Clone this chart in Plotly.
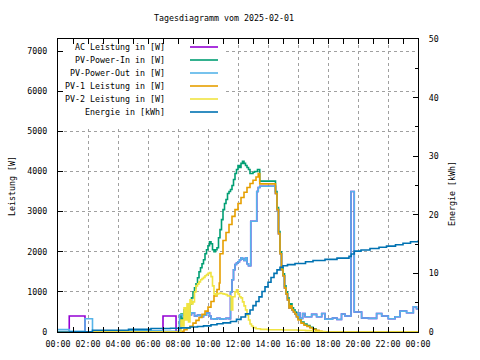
import plotly.graph_objects as go

# ---------------- data (hours of day, W / kWh) ----------------
tick_hours = [0, 2, 4, 6, 8, 10, 12, 14, 16, 18, 20, 22, 24]
tick_labels = ["00:00", "02:00", "04:00", "06:00", "08:00", "10:00", "12:00",
               "14:00", "16:00", "18:00", "20:00", "22:00", "00:00"]

out_h = [0, 0.75, 1.8, 2.3, 7.0, 8.1, 8.3, 8.5, 8.7, 8.9, 9.1, 9.3, 9.5, 9.7, 9.9, 10.1,
         10.2, 10.4, 10.6, 10.8, 11.0, 11.2, 11.4, 11.5, 11.6, 11.7, 11.8, 11.9, 12.0, 12.1,
         12.2, 12.3, 12.4, 12.5, 12.6, 12.7, 12.85, 13.25, 13.35, 13.45, 14.5, 14.6, 14.7,
         14.8, 14.9, 15.0, 15.1, 15.2, 15.3, 15.4, 15.5, 15.6, 15.7, 15.8, 15.9, 16.0, 16.13,
         16.31, 16.47, 16.91, 17.24, 17.58, 17.8, 18.3, 18.6, 18.9, 19.13, 19.53, 19.75,
         19.91, 20.24, 20.7, 21.24, 21.58, 22.02, 22.47, 22.8, 23.24, 23.69, 23.9, 24]
out_w = [60, 20, 330, 30, 20, 430, 380, 600, 430, 480, 400, 420, 380, 420, 470, 400,
         330, 320, 340, 320, 330, 340, 330, 1000, 1300, 1550, 1680, 1720, 1750, 1800,
         1850, 1820, 1780, 1850, 1700, 1650, 2760, 3500, 3600, 3630, 3450, 3050, 2450,
         1950, 1550, 1400, 1100, 950, 800, 600, 650, 550, 500, 450, 380, 470, 340,
         460, 380, 440, 380, 460, 320, 350, 310, 450, 400, 3500, 500,
         500, 350, 340, 460, 400, 330, 380, 520, 480, 630, 580, 580]

ac_h = [0, 0.75, 1.8, 7.0, 7.87, 8.13, 8.36, 8.5, 8.7, 8.9, 9.1, 9.3, 9.5, 9.7, 9.9, 10.1,
        10.2, 10.4, 10.6, 10.8, 11.0, 11.2, 11.4, 11.5, 11.6, 11.7, 11.8, 11.9, 12.0, 12.1,
        12.2, 12.3, 12.4, 12.5, 12.6, 12.7, 12.85, 13.25, 13.35, 13.45, 14.5, 14.6, 14.7,
        14.8, 14.9, 15.0, 15.1, 15.2, 15.3, 15.4, 15.5, 15.6, 15.7, 15.8, 15.9, 16.0, 16.13,
        16.31, 16.47, 16.91, 17.24, 17.58, 17.8, 18.3, 18.6, 18.9, 19.13, 19.53, 19.75,
        19.91, 20.24, 20.7, 21.24, 21.58, 22.02, 22.47, 22.8, 23.24, 23.69, 23.9, 24]
ac_w = [0, 400, 0, 400, 0, 400, 380, 600, 430, 480, 400, 420, 380, 420, 470, 400,
        330, 320, 340, 320, 330, 340, 330, 1000, 1300, 1550, 1680, 1720, 1750, 1800,
        1850, 1820, 1780, 1850, 1700, 1650, 2760, 3500, 3600, 3630, 3450, 3050, 2450,
        1950, 1550, 1400, 1100, 950, 800, 600, 650, 550, 500, 450, 380, 470, 340,
        460, 380, 440, 380, 460, 320, 350, 310, 450, 400, 3500, 500,
        500, 350, 340, 460, 400, 330, 380, 520, 480, 630, 580, 580]

in_h = [0, 8.1, 8.2, 8.3, 8.4, 8.5, 8.6, 8.7, 8.8, 8.9, 9.0, 9.1, 9.2, 9.3, 9.4, 9.5, 9.6,
        9.7, 9.8, 9.9, 10.0, 10.1, 10.2, 10.3, 10.4, 10.5, 10.6, 10.7, 10.8, 10.9, 11.0,
        11.1, 11.2, 11.3, 11.4, 11.5, 11.6, 11.7, 11.8, 11.9, 12.0, 12.1, 12.2, 12.3, 12.4,
        12.5, 12.6, 12.7, 12.8, 12.9, 13.0, 13.1, 13.2, 13.3, 13.45, 14.5, 14.6, 14.7, 14.8,
        14.9, 15.0, 15.1, 15.2, 15.3, 15.4, 15.5, 15.6, 15.7, 15.8, 15.9, 16.0, 16.2, 16.4,
        16.6, 16.8, 17.0, 17.2, 17.4, 24]
in_w = [0, 250, 450, 300, 550, 400, 600, 500, 700, 850, 1000, 1100, 1200, 1350, 1500, 1600,
        1700, 1800, 1950, 2050, 2150, 2250, 2200, 2050, 2000, 2050, 2100, 2350, 2550, 2800,
        3050, 3200, 3300, 3450, 3500, 3550, 3650, 3800, 3950, 4050, 4150, 4100, 4200, 4250,
        4200, 4150, 4100, 4050, 3950, 3950, 3980, 4000, 4000, 4050, 3760, 3500, 3100, 2500,
        2000, 1600, 1450, 1150, 1000, 850, 650, 700, 600, 550, 500, 420, 330, 250, 200, 160,
        120, 80, 30, 0, 0]

pv1_h = [0, 8.1, 8.2, 8.4, 8.6, 8.8, 9.0, 9.2, 9.4, 9.6, 9.8, 10.0, 10.2, 10.4, 10.6, 10.75,
         10.8, 11.0, 11.2, 11.4, 11.6, 11.8, 12.0, 12.2, 12.4, 12.6, 12.8, 13.0, 13.2, 13.35,
         13.45, 14.5, 14.6, 14.7, 14.8, 14.9, 15.0, 15.1, 15.2, 15.3, 15.4, 15.5, 15.6, 15.7,
         15.8, 15.9, 16.0, 16.2, 16.4, 16.6, 16.8, 17.0, 17.2, 17.4, 17.6, 24]
pv1_w = [0, 0, 20, 60, 100, 140, 220, 290, 360, 440, 520, 620, 760, 900, 1060, 1220,
         1950, 2280, 2480, 2680, 2880, 3050, 3200, 3350, 3480, 3600, 3700, 3780, 3860, 3950,
         3690, 3450, 3050, 2450, 1950, 1550, 1400, 1100, 950, 800, 600, 650, 550, 500,
         450, 380, 300, 220, 170, 140, 100, 70, 40, 15, 0, 0]

pv2_h = [0, 8.1, 8.2, 8.3, 8.4, 8.5, 8.6, 8.7, 8.8, 8.9, 9.0, 9.1, 9.2, 9.3, 9.4, 9.5, 9.6,
         9.7, 9.8, 9.9, 10.0, 10.1, 10.2, 10.3, 10.4, 10.5, 10.6, 10.7, 10.8, 10.9, 11.0,
         11.1, 11.2, 11.3, 11.4, 11.5, 11.55, 11.65, 11.8, 11.9, 12.0, 12.1, 12.2, 12.3,
         12.4, 12.5, 12.6, 12.7, 12.8, 12.9, 13.0, 13.2, 13.5, 14.0, 15.0, 16.0, 16.5, 17.0,
         17.5, 17.8, 24]
pv2_w = [0, 0, 300, 150, 600, 300, 700, 250, 800, 700, 750, 1000, 1150, 1200, 1250, 1300,
         1330, 1360, 1400, 1430, 1460, 1480, 1380, 1150, 950, 920, 950, 960, 970, 960, 950,
         940, 930, 900, 900, 880, 550, 880, 1000, 1050, 950, 880, 850, 750,
         650, 550, 420, 300, 200, 150, 110, 80, 65, 55, 50, 45, 35, 20,
         10, 0, 0]

energy_h = [0, 0.8, 2.3, 4.7, 6.2, 7.5, 8.2, 8.8, 9.3, 9.7, 10.2, 10.6, 11.0, 11.5, 11.9,
            12.2, 12.5, 12.8, 13.0, 13.2, 13.4, 13.6, 13.8, 14.0, 14.2, 14.4, 14.6, 14.8,
            15.0, 15.3, 15.8, 16.5, 17.0, 17.8, 18.6, 19.4, 19.55, 19.75, 20.2, 20.8, 21.4,
            21.9, 22.5, 23.0, 23.5, 24]
energy_kwh = [0, 0.05, 0.3, 0.45, 0.6, 0.65, 0.7, 0.85, 0.95, 1.05, 1.25, 1.4, 1.55, 1.8,
              2.15, 2.55, 3.1, 3.75, 4.5, 5.2, 6.0, 6.9, 7.7, 8.5, 9.3, 10.0, 10.6, 11.05,
              11.3, 11.5, 11.7, 12.0, 12.2, 12.4, 12.6, 12.9, 13.3, 13.8, 14.0, 14.25, 14.45,
              14.65, 14.9, 15.15, 15.4, 15.6]

names = ["AC Leistung in [W]", "PV-Power-In in [W]", "PV-Power-Out in [W]",
         "PV-1 Leistung in [W]", "PV-2 Leistung in [W]", "Energie in [kWh]"]
colors = ["#9400D3", "#009E73", "#56B4E9", "#E69F00", "#F0E442", "#0072B2"]

# ---------------- figure ----------------
FONT = "DejaVu Sans Mono"
L, R, T, B = 58, 418, 39, 332
W_PLOT, H_PLOT = R - L, B - T

def px_x(x):
    return (x - L) / W_PLOT

def px_y(y):
    return (B - y) / H_PLOT

fig = go.Figure()
series = [(ac_h, ac_w, "y"), (in_h, in_w, "y"), (out_h, out_w, "y"),
          (pv1_h, pv1_w, "y"), (pv2_h, pv2_w, "y"), (energy_h, energy_kwh, "y2")]
for (xs, ys, ax), name, col in zip(series, names, colors):
    fig.add_trace(go.Scatter(x=xs, y=ys, yaxis=ax, mode="lines", name=name,
                             line=dict(color=col, width=1.6, shape="hv"),
                             showlegend=False, hoverinfo="skip"))

annotations = []
shapes = []
# opaque key background hiding the grid (inset so border ticks stay visible)
shapes.append(dict(type="rect", xref="paper", yref="paper", x0=px_x(64), x1=px_x(223),
                   y0=px_y(126), y1=px_y(45), fillcolor="white", line=dict(width=0),
                   layer="above"))
# legend (gnuplot style: right aligned text, sample to the right)
leg_rows = [47, 60, 73, 86, 99, 112]
for name, col, yy in zip(names, colors, leg_rows):
    annotations.append(dict(text=name, x=px_x(167), y=px_y(yy), xref="paper", yref="paper",
                            xanchor="right", yanchor="middle", showarrow=False,
                            font=dict(family=FONT, size=8.3, color="black")))
    shapes.append(dict(type="line", xref="paper", yref="paper", x0=px_x(190), x1=px_x(218),
                       y0=px_y(yy), y1=px_y(yy), line=dict(color=col, width=1.6),
                       layer="above"))

annotations.append(dict(text="Leistung [W]", x=px_x(12), y=px_y(186), xref="paper",
                        yref="paper", textangle=-90, showarrow=False,
                        xanchor="center", yanchor="middle",
                        font=dict(family=FONT, size=8.3, color="black")))
annotations.append(dict(text="Energie [kWh]", x=px_x(452), y=px_y(194), xref="paper",
                        yref="paper", textangle=-90, showarrow=False,
                        xanchor="center", yanchor="middle",
                        font=dict(family=FONT, size=8.3, color="black")))

grid = dict(gridcolor="#a0a0a0", griddash="dot", gridwidth=1)

fig.update_layout(
    width=480, height=360,
    margin=dict(l=L, r=480 - R, t=T, b=360 - B, pad=0),
    paper_bgcolor="white", plot_bgcolor="white",
    font=dict(family=FONT, size=8.3, color="black"),
    title=dict(text="Tagesdiagramm vom 2025-02-01", x=224 / 480, y=1 - 18 / 360,
               xanchor="center", yanchor="middle",
               font=dict(family=FONT, size=8.3, color="black")),
    xaxis=dict(range=[0, 24], tickvals=tick_hours, ticktext=tick_labels,
               showline=True, linecolor="black", linewidth=1, mirror="allticks",
               ticks="inside", ticklen=5, tickcolor="black", zeroline=False,
               minor=dict(dtick=1, ticks="inside", ticklen=3, tickcolor="black",
                          showgrid=False),
               ticklabelstandoff=4, showgrid=True, **grid),
    yaxis=dict(range=[0, 7300], dtick=1000, tick0=0, showline=True, linecolor="black",
               linewidth=1, mirror=False, ticks="inside", ticklen=5, tickcolor="black",
               zeroline=False, showgrid=True, ticklabelstandoff=8, **grid),
    yaxis2=dict(range=[0, 50], dtick=10, tick0=0, overlaying="y", side="right",
                showline=True, linecolor="black", linewidth=1, ticks="inside",
                ticklen=5, tickcolor="black", zeroline=False, showgrid=False,
                minor=dict(dtick=5, ticks="inside", ticklen=3, tickcolor="black"),
                ticklabelstandoff=8),
    annotations=annotations,
    shapes=shapes,
)

fig.write_html("out.html", config={"displayModeBar": False},
               post_script="document.body.style.margin='0px';document.body.style.padding='0px';")
